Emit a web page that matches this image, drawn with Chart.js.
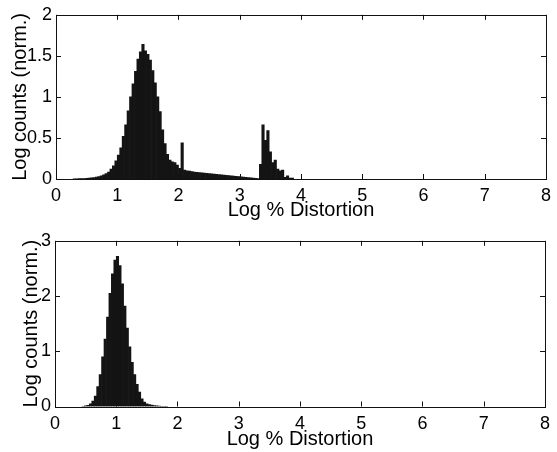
<!DOCTYPE html>
<html>
<head>
<meta charset="utf-8">
<title>Log % Distortion histograms</title>
<script src="https://cdn.jsdelivr.net/npm/chart.js@4"></script>
<style>
  html, body { margin: 0; padding: 0; background: #fff; }
  canvas { display: block; }
</style>
</head>
<body>
<canvas id="topChart" width="557" height="226"></canvas>
<canvas id="bottomChart" width="557" height="226"></canvas>
<script>
// ---- data ----
const binWidth = 0.04;

// upper panel: bin centres start at 0.30
const topStart = 0.30;
const topCounts = [
  0.002, 0.003, 0.004, 0.005, 0.006, 0.008, 0.010, 0.013, 0.017, 0.022,
  0.030, 0.040, 0.050, 0.065, 0.085, 0.12, 0.16, 0.22, 0.29, 0.38,
  0.52, 0.66, 0.83, 1.00, 1.16, 1.31, 1.46, 1.55, 1.64, 1.56,
  1.52, 1.45, 1.32, 1.17, 1.00, 0.82, 0.60, 0.43, 0.30, 0.23,
  0.21, 0.20, 0.17, 0.13, 0.44, 0.11, 0.10, 0.095, 0.09, 0.085,
  0.08, 0.077, 0.074, 0.071, 0.068, 0.065, 0.062, 0.059, 0.056, 0.053,
  0.050, 0.047, 0.044, 0.041, 0.038, 0.035, 0.032, 0.029, 0.026, 0.023,
  0.020, 0.017, 0.014, 0.011, 0.008, 0.005, 0.18, 0.66, 0.47, 0.59,
  0.33, 0.20, 0.23, 0.12, 0.10, 0.11, 0.02, 0.04, 0.01, 0.01
];

// lower panel: bin centres start at 0.46
const bottomStart = 0.46;
const bottomCounts = [
  0.005, 0.01, 0.02, 0.05, 0.10, 0.19, 0.36, 0.58, 0.90, 1.22,
  1.62, 2.05, 2.40, 2.65, 2.72, 2.55, 2.22, 1.82, 1.42, 1.08,
  0.80, 0.58, 0.40, 0.26, 0.14, 0.08, 0.05, 0.035, 0.025, 0.017,
  0.012, 0.008, 0.005, 0.003, 0.002
];

const xTicks = [0, 1, 2, 3, 4, 5, 6, 7, 8];
const topYTicks = [0, 0.5, 1, 1.5, 2];
const bottomYTicks = [0, 1, 2, 3];

const xTitle = "Log % Distortion";
const yTitle = "Log counts (norm.)";

// ---- helpers ----
const FONT = "'Liberation Sans', Arial, Helvetica, sans-serif";

function toPoints(start, counts) {
  return counts.map((v, i) => ({ x: +(start + i * binWidth).toFixed(2), y: v }));
}

// MATLAB-ish box with inward tick marks on all four sides
const boxPlugin = {
  id: "box",
  afterDatasetsDraw(chart) {
    const { ctx, chartArea: a, scales } = chart;
    const len = 5;
    ctx.save();
    ctx.strokeStyle = "#111";
    ctx.lineWidth = 1;
    ctx.beginPath();
    scales.x.ticks.forEach(t => {
      const px = Math.round(scales.x.getPixelForValue(t.value)) + 0.5;
      ctx.moveTo(px, a.bottom); ctx.lineTo(px, a.bottom - len);
      ctx.moveTo(px, a.top); ctx.lineTo(px, a.top + len);
    });
    scales.y.ticks.forEach(t => {
      const py = Math.round(scales.y.getPixelForValue(t.value)) + 0.5;
      ctx.moveTo(a.left, py); ctx.lineTo(a.left + len, py);
      ctx.moveTo(a.right, py); ctx.lineTo(a.right - len, py);
    });
    ctx.stroke();
    ctx.strokeRect(Math.round(a.left) + 0.5, Math.round(a.top) + 0.5,
      Math.round(a.right - a.left), Math.round(a.bottom - a.top));
    ctx.restore();
  }
};

function makeChart(id, points, yMax, yTicks, cfg) {
  return new Chart(document.getElementById(id), {
    type: "bar",
    data: {
      datasets: [{
        data: points,
        backgroundColor: "#141414",
        borderWidth: 0,
        barPercentage: 1,
        categoryPercentage: 1
      }]
    },
    options: {
      responsive: false,
      animation: false,
      devicePixelRatio: 1,
      layout: { padding: { top: cfg.padTop, right: cfg.padRight, left: 0, bottom: 0 } },
      plugins: { legend: { display: false }, tooltip: { enabled: false } },
      scales: {
        x: {
          type: "linear",
          min: 0, max: 8,
          offset: false,
          afterBuildTicks: s => { s.ticks = xTicks.map(v => ({ value: v })); },
          afterFit: s => { s.height = cfg.xHeight; },
          grid: { display: false, drawTicks: false, tickLength: 0 },
          border: { display: false },
          ticks: { color: "#000", font: { family: FONT, size: 18 }, padding: cfg.xTickPad, maxRotation: 0, autoSkip: false,
                   callback: v => String(v) },
          title: { display: true, text: xTitle, color: "#000", font: { family: FONT, size: 20 }, padding: { top: 0, bottom: cfg.xTitlePad } }
        },
        y: {
          min: 0, max: yMax,
          afterBuildTicks: s => { s.ticks = yTicks.map(v => ({ value: v })); },
          afterFit: s => { s.width = cfg.yWidth; },
          grid: { display: false, drawTicks: false, tickLength: 0 },
          border: { display: false },
          ticks: { color: "#000", font: { family: FONT, size: 18 }, padding: 4, autoSkip: false,
                   callback: v => String(v) },
          title: { display: true, text: yTitle, color: "#000", font: { family: FONT, size: 20 }, padding: { top: cfg.yTitlePad, bottom: 0 } }
        }
      }
    },
    plugins: [boxPlugin]
  });
}

makeChart("topChart", toPoints(topStart, topCounts), 2, topYTicks,
  { padTop: 12, padRight: 4, xHeight: 47, yWidth: 56, xTickPad: 6, xTitlePad: 4, yTitlePad: 8 });

makeChart("bottomChart", toPoints(bottomStart, bottomCounts), 3, bottomYTicks,
  { padTop: 14, padRight: 5, xHeight: 45.5, yWidth: 55, xTickPad: 7, xTitlePad: 1, yTitlePad: 19 });
</script>
</body>
</html>
